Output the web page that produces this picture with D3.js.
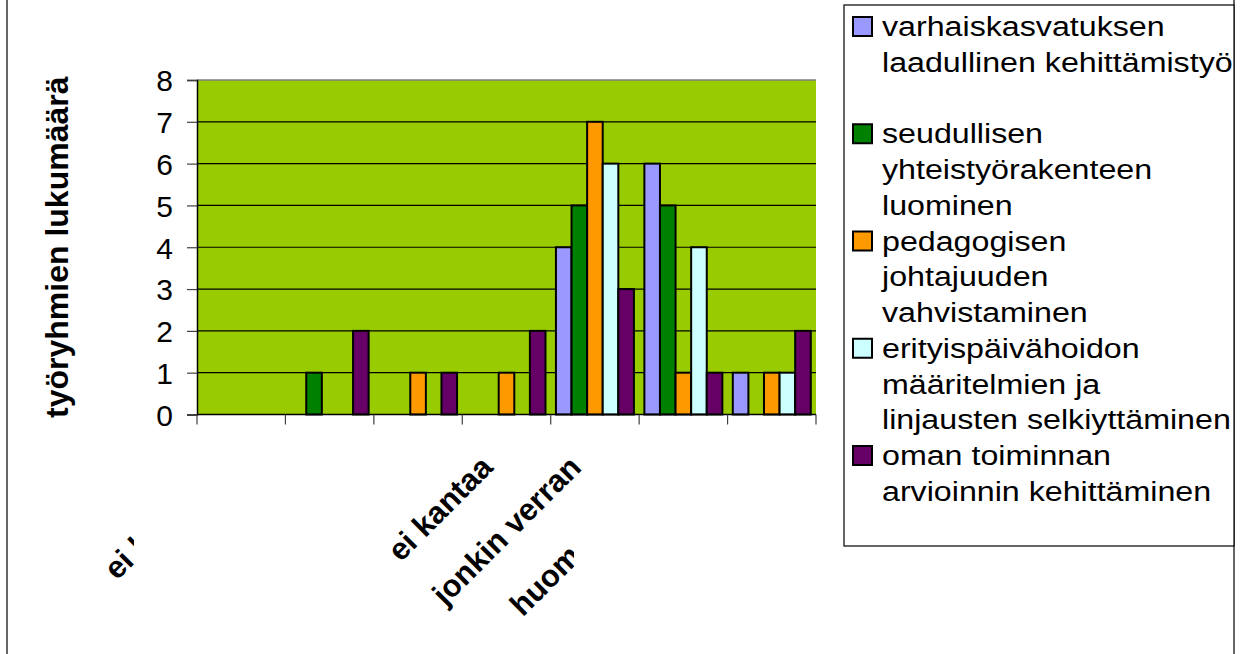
<!DOCTYPE html>
<html>
<head>
<meta charset="utf-8">
<script src="https://cdn.jsdelivr.net/npm/d3@7"></script>
<style>
  body { margin: 0; background: #fff; }
  svg { display: block; font-family: Arial, "Liberation Sans", sans-serif; }
</style>
</head>
<body>
<div id="chart"></div>
<script>
// category tick labels (only some are visible in the original)
const tickLabels = ["ei lainkaan", "", "", "ei kantaa", "jonkin verran", "huomattavasti", ""];
const yTicks = [0, 1, 2, 3, 4, 5, 6, 7, 8];

// series values per category
const varhaiskasvatus = [0, 0, 0, 0, 4, 6, 1];
const seudullinen = [0, 1, 0, 0, 5, 5, 0];
const pedagoginen = [0, 0, 1, 1, 7, 1, 1];
const erityispaivahoito = [0, 0, 0, 0, 6, 4, 1];
const omaToiminta = [0, 2, 1, 2, 3, 1, 2];

const seriesValues = [varhaiskasvatus, seudullinen, pedagoginen, erityispaivahoito, omaToiminta];
const seriesColors = ["#9999ff", "#008000", "#ff9900", "#ccffff", "#660066"];
const legendLines = [
  ["varhaiskasvatuksen", "laadullinen kehittämistyö", ""],
  ["seudullisen", "yhteistyörakenteen", "luominen"],
  ["pedagogisen", "johtajuuden", "vahvistaminen"],
  ["erityispäivähoidon", "määritelmien ja", "linjausten selkiyttäminen"],
  ["oman toiminnan", "arvioinnin kehittäminen"]
];
const yTitle = "työryhmien lukumäärä";

const W = 1246, H = 654;
const plot = { left: 197, right: 816, top: 80, bottom: 414.5 };

const svg = d3.select("#chart").append("svg").attr("width", W).attr("height", H);

// outer chart border
svg.append("rect")
  .attr("x", 7).attr("y", -10).attr("width", 1227).attr("height", H + 20)
  .attr("fill", "#fff").attr("stroke", "#333").attr("stroke-width", 1.5);

const x0 = d3.scaleBand().domain(d3.range(tickLabels.length)).range([plot.left, plot.right]);
const x1 = d3.scaleBand().domain(d3.range(seriesValues.length))
  .range([0, x0.bandwidth()]).paddingInner(0).paddingOuter(0.335);
const y = d3.scaleLinear().domain([0, 8]).range([plot.bottom, plot.top]);

// plot area
svg.append("rect")
  .attr("x", plot.left).attr("y", plot.top)
  .attr("width", plot.right - plot.left).attr("height", plot.bottom - plot.top)
  .attr("fill", "#99cc00");

// gridlines
svg.append("g")
  .selectAll("line")
  .data(yTicks.filter((d) => d > 0))
  .join("line")
  .attr("x1", plot.left).attr("x2", plot.right)
  .attr("y1", (d) => y(d)).attr("y2", (d) => y(d))
  .attr("stroke", (d) => (d === 8 ? "#808080" : "#000"))
  .attr("stroke-width", (d) => (d === 8 ? 1.5 : 1.2));

// bars
const groups = svg.append("g")
  .selectAll("g")
  .data(seriesValues)
  .join("g")
  .attr("fill", (d, i) => seriesColors[i]);

groups.each(function (vals, si) {
  d3.select(this)
    .selectAll("rect")
    .data(vals.map((v, ci) => ({ v, ci })).filter((d) => d.v > 0))
    .join("rect")
    .attr("x", (d) => x0(d.ci) + x1(si))
    .attr("width", x1.bandwidth())
    .attr("y", (d) => y(d.v))
    .attr("height", (d) => y(0) - y(d.v))
    .attr("stroke", "#000")
    .attr("stroke-width", 2);
});

// y axis
const yAxis = svg.append("g")
  .attr("transform", `translate(${plot.left},0)`)
  .call(d3.axisLeft(y).tickValues(yTicks).tickSize(10).tickPadding(14));
yAxis.select(".domain").attr("stroke", "#000").attr("stroke-width", 1.5);
yAxis.selectAll(".tick line").attr("stroke", "#404040").attr("stroke-width", 1.2);
yAxis.selectAll(".tick text")
  .attr("font-size", 30)
  .attr("fill", "#000")
  .attr("font-family", "Arial, 'Liberation Sans', sans-serif")
  .attr("dy", "0.36em");

// x axis with ticks at category boundaries
const xAxisG = svg.append("g").attr("transform", `translate(0,${plot.bottom})`);
xAxisG.append("line")
  .attr("x1", plot.left).attr("x2", plot.right)
  .attr("stroke", "#000").attr("stroke-width", 1.5);
xAxisG.selectAll("line.tick")
  .data(d3.range(tickLabels.length + 1))
  .join("line")
  .attr("class", "tick")
  .attr("x1", (d) => plot.left + d * x0.step())
  .attr("x2", (d) => plot.left + d * x0.step())
  .attr("y1", 0).attr("y2", 10)
  .attr("stroke", "#404040").attr("stroke-width", 1.2);

// rotated category labels, some clipped as in the original
const defs = svg.append("defs");
defs.append("clipPath").attr("id", "clip0")
  .append("rect").attr("x", 0).attr("y", 0).attr("width", 134).attr("height", H);
defs.append("clipPath").attr("id", "clip5")
  .append("rect").attr("x", 0).attr("y", 0).attr("width", 574).attr("height", H);

svg.append("g")
  .selectAll("g")
  .data(tickLabels.map((t, i) => ({ t, i })).filter((d) => d.t))
  .join("g")
  .attr("clip-path", (d) => (d.i === 0 ? "url(#clip0)" : d.i === 5 ? "url(#clip5)" : null))
  .append("text")
  .attr("transform", (d) => `translate(${x0(d.i) + x0.bandwidth() / 2 - 12},469) rotate(-45)`)
  .attr("text-anchor", "end")
  .attr("font-size", 31)
  .attr("font-weight", "bold")
  .text((d) => d.t);

// y axis title
svg.append("text")
  .attr("transform", `translate(68,${(plot.top + plot.bottom) / 2}) rotate(-90)`)
  .attr("text-anchor", "middle")
  .attr("font-size", 32)
  .attr("font-weight", "bold")
  .text(yTitle);

// legend
const legend = svg.append("g");
legend.append("rect")
  .attr("x", 844).attr("y", 5).attr("width", 390).attr("height", 541)
  .attr("fill", "#fff").attr("stroke", "#000").attr("stroke-width", 1.2);

const lineH = 35.75;
let lineIdx = 0;
legendLines.forEach((lines, i) => {
  const base = 36 + lineIdx * lineH;
  legend.append("rect")
    .attr("x", 853).attr("y", base - 19).attr("width", 19).attr("height", 19)
    .attr("fill", seriesColors[i]).attr("stroke", "#000").attr("stroke-width", 2);
  lines.forEach((l, j) => {
    legend.append("text")
      .attr("transform", `translate(882,${base + j * lineH}) scale(1.15,1)`)
      .attr("font-size", 28)
      .text(l);
  });
  lineIdx += lines.length;
});
</script>
</body>
</html>
